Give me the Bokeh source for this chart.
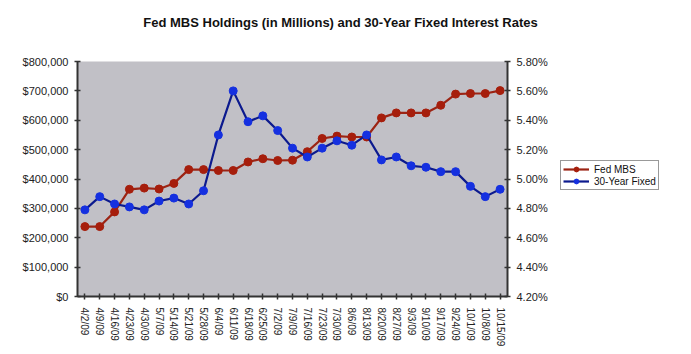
import math
from bokeh.plotting import figure
from bokeh.layouts import column, row
from bokeh.models import (FactorRange, Range1d, LinearAxis, NumeralTickFormatter,
                          Legend, LegendItem, ColumnDataSource, FixedTicker,
                          CustomJSTickFormatter, Label)
from bokeh.embed import file_html
from bokeh.resources import INLINE

dates = ["4/2/09", "4/9/09", "4/16/09", "4/23/09", "4/30/09", "5/7/09", "5/14/09",
         "5/21/09", "5/28/09", "6/4/09", "6/11/09", "6/18/09", "6/25/09", "7/2/09",
         "7/9/09", "7/16/09", "7/23/09", "7/30/09", "8/6/09", "8/13/09", "8/20/09",
         "8/27/09", "9/3/09", "9/10/09", "9/17/09", "9/24/09", "10/1/09", "10/8/09",
         "10/15/09"]
fed_mbs = [238000, 238000, 288000, 365000, 369000, 366000, 385000, 432000, 432000,
           429000, 429000, 458000, 469000, 463000, 464000, 493000, 538000, 546000,
           543000, 543000, 608000, 625000, 625000, 625000, 651000, 689000, 691000,
           691000, 701000]
rate30 = [4.79, 4.88, 4.83, 4.81, 4.79, 4.85, 4.87, 4.83, 4.92, 5.30, 5.60, 5.39,
          5.43, 5.33, 5.21, 5.15, 5.21, 5.26, 5.23, 5.30, 5.13, 5.15, 5.09, 5.08,
          5.05, 5.05, 4.95, 4.88, 4.93]
left_ticks = [0, 100000, 200000, 300000, 400000, 500000, 600000, 700000, 800000]
right_ticks = [4.2, 4.4, 4.6, 4.8, 5.0, 5.2, 5.4, 5.6, 5.8]
title_text = "Fed MBS Holdings (in Millions) and 30-Year Fixed Interest Rates"
series_names = ["Fed MBS", "30-Year Fixed"]

FONT = "Liberation Sans"
AXIS_COLOR = "#333333"
red_line = "#9C2414"
red_mark = "#A61E0C"
blue_line = "#0C1A8E"
blue_mark = "#1530E0"

src = ColumnDataSource(dict(d=dates, mbs=fed_mbs, rate=rate30))

# ---- title strip ----
tfig = figure(width=691, height=54, x_range=Range1d(0, 691), y_range=Range1d(0, 54),
              x_axis_type=None, y_axis_type=None, min_border=0,
              output_backend="svg", toolbar_location=None)
tfig.outline_line_color = None
tfig.background_fill_color = "white"
tfig.xgrid.grid_line_color = None
tfig.ygrid.grid_line_color = None
tfig.add_layout(Label(x=340, y=32, text=title_text, text_font=FONT,
                      text_font_size="13px", text_font_style="bold",
                      text_align="center", text_baseline="middle",
                      text_color="#111111"))

# ---- main chart ----
p = figure(frame_width=430, frame_height=235, x_range=FactorRange(factors=dates),
           y_range=Range1d(0, 800000), output_backend="svg", toolbar_location=None,
           min_border_left=77, min_border_right=50, min_border_top=7,
           min_border_bottom=58)
p.extra_y_ranges = {"rate": Range1d(4.2, 5.8)}
p.background_fill_color = "#C1C0C6"
p.border_fill_color = "white"
p.outline_line_color = None
p.xgrid.grid_line_color = None
p.ygrid.grid_line_color = None

def style_axis(ax):
    ax.axis_line_color = AXIS_COLOR
    ax.axis_line_width = 2
    ax.major_tick_line_color = AXIS_COLOR
    ax.major_tick_line_width = 1.5
    ax.major_tick_in = 3
    ax.major_tick_out = 3
    ax.minor_tick_line_color = None
    ax.major_label_text_font = FONT
    ax.major_label_text_font_size = "11px"
    ax.major_label_text_color = "#222222"

ya = p.yaxis[0]
style_axis(ya)
ya.ticker = FixedTicker(ticks=left_ticks)
ya.formatter = NumeralTickFormatter(format="$0,0")
ya.major_label_standoff = 6

ra = LinearAxis(y_range_name="rate", ticker=FixedTicker(ticks=right_ticks),
                formatter=CustomJSTickFormatter(code="return tick.toFixed(2) + '%';"))
style_axis(ra)
ra.major_label_standoff = 6
p.add_layout(ra, "right")

xa = p.xaxis[0]
style_axis(xa)
xa.major_label_orientation = -math.pi / 2
xa.major_label_text_font_size = "10px"
xa.major_label_standoff = 8

p.line("d", "mbs", source=src, line_color=red_line, line_width=2.2)
p.scatter("d", "mbs", source=src, size=8, fill_color=red_mark, line_color=red_mark)
p.line("d", "rate", source=src, y_range_name="rate", line_color=blue_line, line_width=2.2)
p.scatter("d", "rate", source=src, y_range_name="rate", size=8,
          fill_color=blue_mark, line_color=blue_mark)

# ---- legend strip (its renderers use the same data, kept out of view) ----
lfig = figure(width=134, height=248, x_range=FactorRange(factors=dates),
              y_range=Range1d(-2, -1), x_axis_type=None, y_axis_type=None,
              min_border=0, output_backend="svg", toolbar_location=None)
lfig.outline_line_color = None
lfig.background_fill_color = "white"
lfig.xgrid.grid_line_color = None
lfig.ygrid.grid_line_color = None
ll1 = lfig.line("d", "mbs", source=src, line_color=red_line, line_width=2.2)
ls1 = lfig.scatter("d", "mbs", source=src, size=8, fill_color=red_mark, line_color=red_mark)
ll2 = lfig.line("d", "rate", source=src, line_color=blue_line, line_width=2.2)
ls2 = lfig.scatter("d", "rate", source=src, size=8, fill_color=blue_mark, line_color=blue_mark)

legend = Legend(items=[LegendItem(label=series_names[0], renderers=[ll1, ls1]),
                       LegendItem(label=series_names[1], renderers=[ll2, ls2])],
                location=(3, 54))
legend.label_text_font = FONT
legend.label_text_font_size = "10px"
legend.label_text_color = "#111111"
legend.border_line_color = "#333333"
legend.border_line_width = 1
legend.background_fill_color = "white"
legend.glyph_width = 26
legend.glyph_height = 12
legend.label_standoff = 5
legend.spacing = 0
legend.padding = 2
legend.margin = 0
legend.label_height = 12
lfig.add_layout(legend)

layout = column(tfig, row(p, lfig, spacing=0), spacing=0)
open("out.html", "w").write(file_html(layout, INLINE))
